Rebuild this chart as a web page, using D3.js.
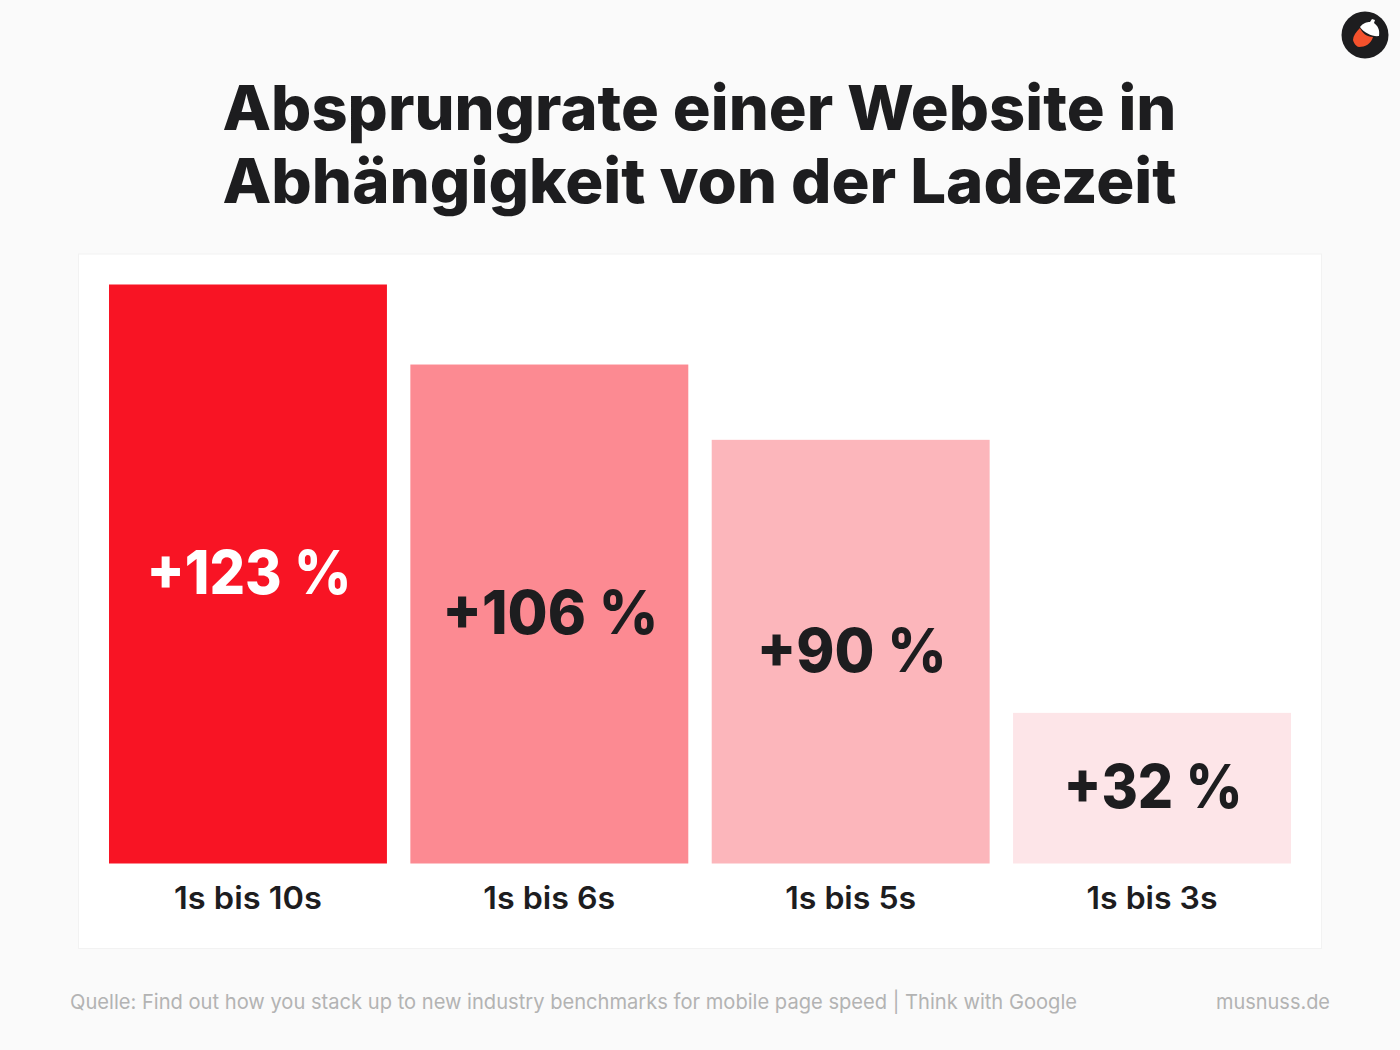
<!DOCTYPE html>
<html><head><meta charset="utf-8">
<script src="https://cdn.jsdelivr.net/npm/d3@7"></script>
<style>html,body{margin:0;padding:0;background:#fafafa}svg{display:block}text{font-family:Inter,"Noto Sans",sans-serif}</style>
</head><body><div id="c"></div>
<script>
const categories = ["1s bis 10s","1s bis 6s","1s bis 5s","1s bis 3s"];
const values = [123,106,90,32];
const valueLabels = ["+123 %","+106 %","+90 %","+32 %"];
const barColors = ["#f81424","#fc8a92","#fcb6bb","#fde5e8"];
const labelColors = ["#ffffff","#1d1d1f","#1d1d1f","#1d1d1f"];
const titleLines = ["Absprungrate einer Website in","Abhängigkeit von der Ladezeit"];
const source = "Quelle: Find out how you stack up to new industry benchmarks for mobile page speed | Think with Google";
const brand = "musnuss.de";

const svg = d3.select("#c").append("svg").attr("width",1400).attr("height",1050);
svg.append("rect").attr("width",1400).attr("height",1050).attr("fill","#fafafa");
svg.append("rect").attr("x",78.5).attr("y",254).attr("width",1243).attr("height",694.5)
  .attr("fill","#fff").attr("stroke","#f2f2f2");

const x = d3.scaleBand().domain(categories).range([109,1291]).paddingInner(0.0777).paddingOuter(0);
const y = d3.scaleLinear().domain([0,123]).range([863.5,284.5]);

const fit = (sel,w)=>sel.attr("textLength",w).attr("lengthAdjust","spacingAndGlyphs");

svg.append("g").selectAll("text").data(titleLines).join("text")
  .attr("x",699.5).attr("y",(d,i)=>130+i*73).attr("text-anchor","middle")
  .attr("font-size",62).attr("font-weight",800).attr("fill","#1d1d1f").text(d=>d)
  .call(fit,954);

const g = svg.append("g").selectAll("g").data(categories).join("g");
g.append("rect").attr("x",d=>x(d)).attr("width",x.bandwidth())
  .attr("y",(d,i)=>y(values[i])).attr("height",(d,i)=>y(0)-y(values[i]))
  .attr("fill",(d,i)=>barColors[i]);
const valW = [205,216,190,179];
g.append("text").attr("x",d=>x(d)+x.bandwidth()/2+1)
  .attr("y",(d,i)=>(y(values[i])+y(0))/2+20).attr("text-anchor","middle")
  .attr("font-size",60).attr("font-weight",800)
  .attr("fill",(d,i)=>labelColors[i]).text((d,i)=>valueLabels[i])
  .each(function(d,i){d3.select(this).call(fit,valW[i]);});
const catW = [148,132,131,131];
g.append("text").attr("x",d=>x(d)+x.bandwidth()/2).attr("y",909).attr("text-anchor","middle")
  .attr("font-size",31).attr("font-weight",600).attr("fill","#1d1d1f").text(d=>d)
  .each(function(d,i){d3.select(this).call(fit,catW[i]);});

svg.append("text").attr("x",70).attr("y",1008.5).attr("font-size",20.5).attr("fill","#b3b3b3").text(source).call(fit,1007);
svg.append("text").attr("x",1330).attr("y",1008.5).attr("text-anchor","end").attr("font-size",20.5).attr("fill","#b3b3b3").text(brand).call(fit,114);

const logo = svg.append("g").attr("transform","translate(1365,35)");
logo.append("circle").attr("r",23.5).attr("fill","#1d1d1f");
logo.append("path").attr("d","M-5,-7 C-9,-3 -12,1 -12,5 C-11,9 -8,12 -6,12 C0,12 6,9 8,2 C2,2 -3,-2 -5,-7Z").attr("fill","#f4512c");
logo.append("path").attr("d","M-5,-8 C-2,-12 2,-13 5,-13 L7,-16 L10,-15 L9,-12 C13,-9 15,-5 14,1 C8,2 -1,-2 -5,-8Z").attr("fill","#fff");
</script></body></html>
